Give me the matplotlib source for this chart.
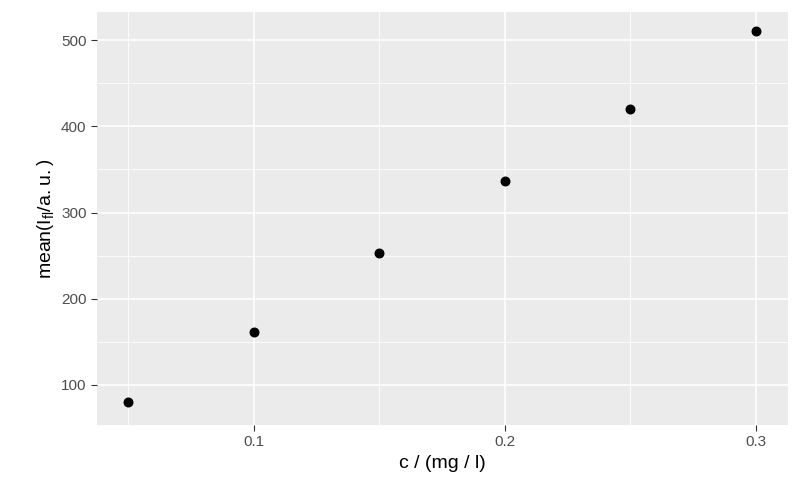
import matplotlib
matplotlib.use("Agg")
import matplotlib.pyplot as plt

plt.rcParams["font.family"] = ["Liberation Sans", "DejaVu Sans"]
plt.rcParams["mathtext.fontset"] = "custom"
plt.rcParams["mathtext.rm"] = "Liberation Sans"

conc = [0.05, 0.10, 0.15, 0.20, 0.25, 0.30]
mean_intensity = [80, 161, 253, 337, 420, 510]

fig = plt.figure(figsize=(8, 4.94), dpi=100)
ax = fig.add_axes([97 / 800, 69 / 494, 691 / 800, 413 / 494])
ax.set_facecolor("#EBEBEB")
ax.scatter(conc, mean_intensity, s=38, color="black", zorder=3)

ax.set_xlim(0.0377, 0.3127)
ax.set_ylim(53.6, 532.5)
ax.set_xticks([0.1, 0.2, 0.3])
ax.set_xticklabels(["0.1", "0.2", "0.3"])
ax.set_yticks([100, 200, 300, 400, 500])
ax.set_xticks([0.05, 0.15, 0.25], minor=True)
ax.set_yticks([150, 250, 350, 450], minor=True)
ax.grid(which="major", color="white", linewidth=1.2)
ax.grid(which="minor", color="white", linewidth=0.6)
ax.set_axisbelow(True)
for s in ax.spines.values():
    s.set_visible(False)
ax.tick_params(which="major", length=4, color="#333333", labelsize=11, labelcolor="#4D4D4D")
ax.tick_params(which="minor", length=0)

ax.set_xlabel("c / (mg / l)", fontsize=14)
ax.set_ylabel(r"mean$\left(\mathrm{I_{fl}/a.u.}\right)$", fontsize=14)

fig.savefig("out.png", dpi=100)
